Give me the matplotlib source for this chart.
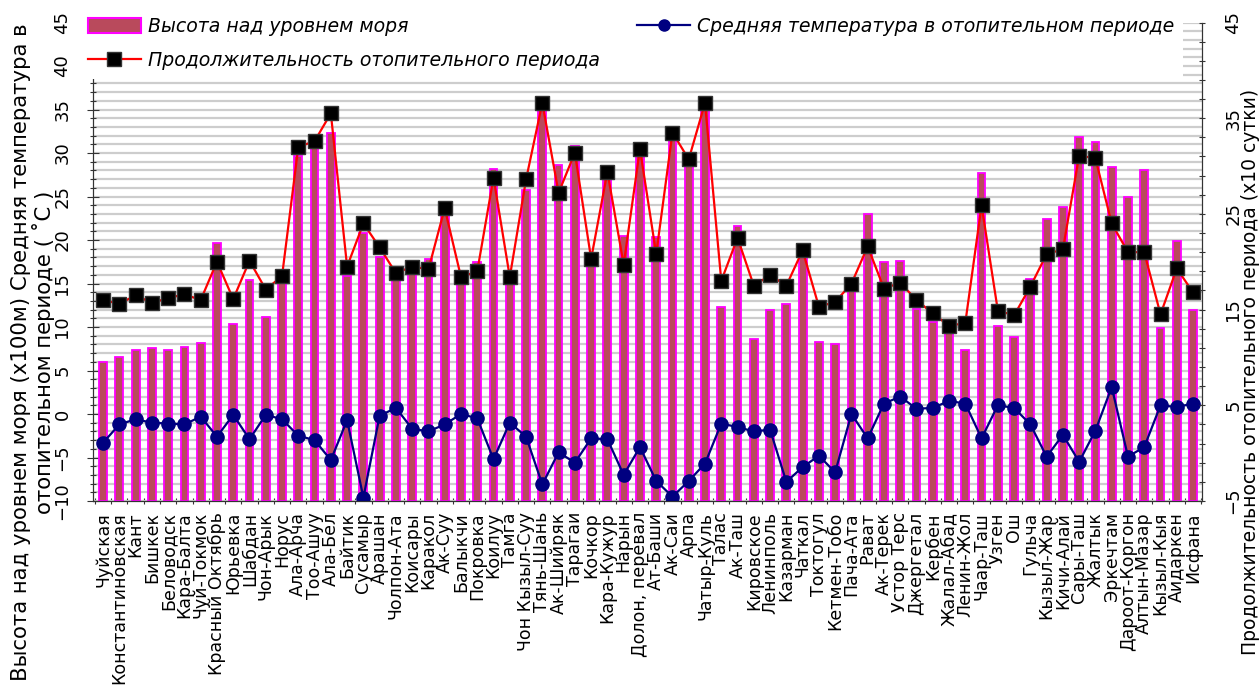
import matplotlib
matplotlib.use("Agg")
import matplotlib.pyplot as plt
from matplotlib.patches import Rectangle
from matplotlib.lines import Line2D
from matplotlib.ticker import MultipleLocator, FixedLocator
import numpy as np

stations = ["Чуйская", "Константиновская", "Кант", "Бишкек", "Беловодск", "Кара-Балта",
            "Чуй-Токмок", "Красный Октябрь", "Юрьевка", "Шабдан", "Чон-Арык", "Норус",
            "Ала-Арча", "Тоо-Ашуу", "Ала-Бел", "Байтик", "Сусамыр", "Арашан", "Чолпон-Ата",
            "Коисары", "Каракол", "Ак-Суу", "Балыкчи", "Покровка", "Коилуу", "Тамга",
            "Чон Кызыл-Суу", "Тянь-Шань", "Ак-Шийряк", "Тарагаи", "Кочкор", "Кара-Кужур",
            "Нарын", "Долон, перевал", "Ат-Баши", "Ак-Саи", "Арпа", "Чатыр-Куль", "Талас",
            "Ак-Таш", "Кировское", "Ленинполь", "Казарман", "Чаткал", "Токтогул",
            "Кетмен-Тобо", "Пача-Ата", "Рават", "Ак-Терек", "Устор Терс", "Джергетал",
            "Кербен", "Жалал-Абад", "Ленин-Жол", "Чаар-Таш", "Узген", "Ош", "Гульча",
            "Кызыл-Жар", "Кичи-Алай", "Сары-Таш", "Жалтык", "Эркечтам", "Дароот-Коргон",
            "Алтын-Мазар", "Кызыл-Кыя", "Аидаркен", "Исфана"]

# Высота над уровнем моря (x100 м)
altitude = [6.0, 6.5, 7.4, 7.6, 7.3, 7.7, 8.2, 19.6, 10.4, 15.4, 11.2, 15.3,
            29.6, 30.9, 32.3, 15.9, 20.8, 18.1, 16.5, 16.1, 17.8, 24.4, 16.1, 17.5,
            28.2, 15.8, 25.7, 35.3, 28.6, 30.8, 17.8, 27.9, 20.5, 30.9, 20.4, 31.5,
            29.3, 35.5, 12.3, 21.6, 8.6, 12.0, 12.7, 18.3, 8.3, 8.1, 14.9, 23.0,
            17.5, 17.6, 12.1, 10.6, 9.9, 7.4, 27.7, 10.1, 8.8, 15.5, 22.4, 23.8,
            31.8, 31.3, 28.4, 24.9, 28.0, 9.9, 19.9, 12.0]

# Средняя температура в отопительном периоде (°C)
temperature = [-3.3, -1.2, -0.6, -1.0, -1.1, -1.2, -0.3, -2.6, -0.1, -2.9, -0.1, -0.6,
               -2.5, -3.0, -5.3, -0.7, -9.6, -0.2, 0.7, -1.7, -2.0, -1.2, 0.0, -0.5,
               -5.2, -1.0, -2.6, -8.1, -4.4, -5.6, -2.8, -2.9, -7.0, -3.8, -7.7, -9.5,
               -7.7, -5.7, -1.1, -1.5, -2.0, -1.8, -7.8, -6.1, -4.8, -6.7, 0.0, -2.8,
               1.2, 2.0, 0.6, 0.7, 1.5, 1.2, -2.8, 1.0, 0.7, -1.2, -4.9, -2.4,
               -5.5, -1.9, 3.1, -4.9, -3.8, 1.0, 0.8, 1.2]

# Продолжительность отопительного периода (x10 суток)
duration = [16.0, 15.6, 16.5, 15.7, 16.2, 16.6, 16.0, 20.0, 16.1, 20.1, 17.1, 18.5,
            32.0, 32.6, 35.5, 19.5, 24.0, 21.5, 18.8, 19.5, 19.2, 25.6, 18.4, 19.0,
            28.8, 18.4, 28.6, 36.6, 27.2, 31.4, 20.3, 29.4, 19.7, 31.8, 20.8, 33.5,
            30.7, 36.6, 18.0, 22.5, 17.5, 18.6, 17.5, 21.2, 15.3, 15.8, 17.7, 21.6,
            17.2, 17.8, 16.0, 14.6, 13.3, 13.6, 25.9, 14.9, 14.4, 17.4, 20.8, 21.3,
            31.1, 30.8, 24.0, 21.0, 21.0, 14.5, 19.3, 16.8]

left_ticks = [-10, -5, 0, 5, 10, 15, 20, 25, 30, 35, 40, 45]
right_ticks = [-5, 5, 15, 25, 35, 45]

W, H = 1259, 691
fig = plt.figure(figsize=(W / 100, H / 100), dpi=100)
fig.patch.set_facecolor("white")

ax_l, ax_r, ax_b, ax_t = 93, 1202, 501, 22.5
ax = fig.add_axes([ax_l / W, 1 - ax_b / H, (ax_r - ax_l) / W, (ax_b - ax_t) / H])
ax2 = ax.twinx()

x = np.arange(len(stations))
ymin, ymax = -10, 45

bar_face = "#b94a5c"
ax.set_axisbelow(True)
ax.bar(x, np.array(altitude) - ymin, bottom=ymin, width=0.48, color=bar_face,
       edgecolor="#ff00ff", linewidth=1.3, zorder=2)
ax.plot(x, temperature, color="#000080", lw=1.6, marker="o", markersize=9.5,
        markerfacecolor="#000080", markeredgecolor="#000080", zorder=3)
ax2.plot(x, duration, color="#ff0000", lw=1.6, marker="s", markersize=10,
         markerfacecolor="black", markeredgecolor="#333333", zorder=3)

ax.set_xlim(-0.62, 67.55)
ax.set_ylim(ymin, ymax)
ax2.set_ylim(-5, 45)

ax.yaxis.set_major_locator(FixedLocator(left_ticks))
ax.yaxis.set_minor_locator(MultipleLocator(1))
ax.grid(which="both", axis="y", color="#cdcdcd", lw=1.6)
ax.grid(False, axis="x")

ax.set_xticks(x)
ax.set_xticklabels(stations, rotation=90, fontsize=12.5, va="top", ha="center")
ax.xaxis.set_minor_locator(FixedLocator(np.arange(-0.5, len(stations), 1.0)))
ax.tick_params(axis="x", which="major", length=0, pad=8)
ax.tick_params(axis="x", which="minor", length=5, direction="inout", width=0.8, color="#333333")

ax.tick_params(axis="y", which="major", length=9, direction="inout", width=0.8,
               labelsize=13, labelrotation=90, pad=11, color="#333333")
ax.tick_params(axis="y", which="minor", length=4, direction="inout", width=0.8, color="#333333")
for lab in ax.get_yticklabels():
    lab.set_va("center")

ax2.yaxis.set_major_locator(FixedLocator(right_ticks))
ax2.yaxis.set_minor_locator(FixedLocator(np.arange(-5, 46, 2)))
ax2.tick_params(axis="y", which="major", length=4, direction="inout", width=0.8,
                labelsize=13, labelrotation=90, pad=14, color="#333333")
ax2.tick_params(axis="y", which="minor", length=4, direction="inout", width=0.8, color="#333333")
for lab in ax2.get_yticklabels():
    lab.set_va("center")

for a in (ax, ax2):
    a.spines["top"].set_visible(False)
    for s in ("left", "right", "bottom"):
        a.spines[s].set_color("#333333")
        a.spines[s].set_linewidth(0.8)

# white legend area
fig.add_artist(Rectangle((86 / W, 1 - 79 / H), (1183 - 86) / W, 79 / H,
                         transform=fig.transFigure, facecolor="white",
                         edgecolor="none", zorder=5))

h_bar = Rectangle((0, 0), 1, 1, facecolor=bar_face, edgecolor="#ff00ff", linewidth=1.5)
h_dur = Line2D([], [], color="#ff0000", lw=1.6, marker="s", markersize=10,
               markerfacecolor="black", markeredgecolor="#333333")
h_tmp = Line2D([], [], color="#000080", lw=1.6, marker="o", markersize=8,
               markerfacecolor="#000080")
leg = fig.legend([h_bar, h_dur, h_tmp],
                 ["Высота над уровнем моря", "Продолжительность отопительного периода",
                  "Средняя температура в отопительном периоде"],
                 ncol=2, loc="upper left", bbox_to_anchor=(88 / W, 1 - 17 / H),
                 frameon=False, prop={"size": 13.6, "style": "italic"},
                 handlelength=2.8, handleheight=0.9, handletextpad=0.35,
                 columnspacing=2.0, labelspacing=0.78, borderpad=0, borderaxespad=0)
leg.set_zorder(6)

fig.text(33 / W, 1 - 352 / H,
         "Высота над уровнем моря (x100м) Средняя температура в\nотопительном периоде ( ˚C )",
         rotation=90, ha="center", va="center", multialignment="center",
         fontsize=15.3, linespacing=1.02)
fig.text(1250 / W, 1 - 372 / H,
         "Продолжительность отопительного периода (x10 сутки)",
         rotation=90, ha="center", va="center", fontsize=13.5)

fig.savefig("out.png", dpi=100, facecolor="white")
